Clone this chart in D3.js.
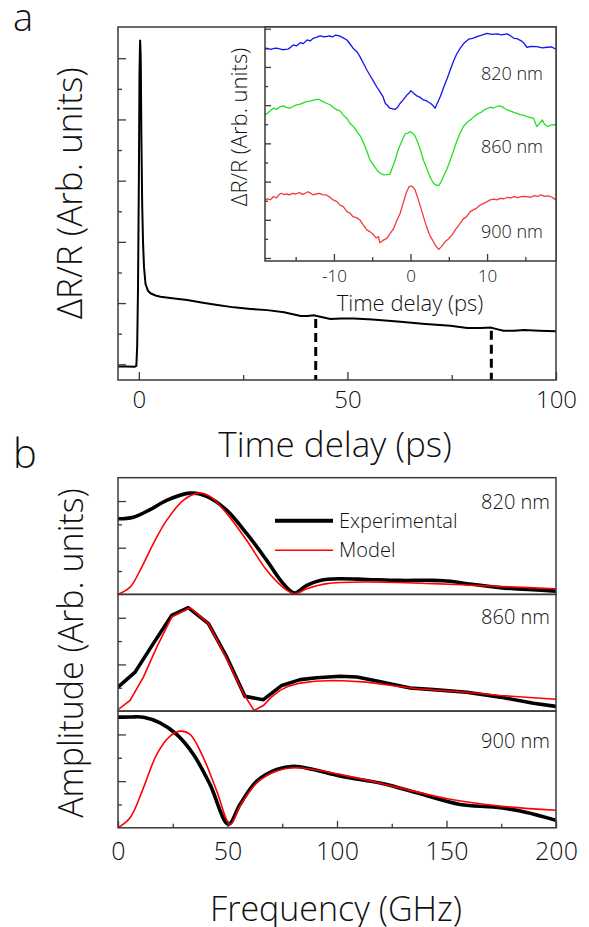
<!DOCTYPE html>
<html><head><meta charset="utf-8">
<script src="https://cdn.jsdelivr.net/npm/d3@7"></script>
<style>body{margin:0;background:#fff;} svg text{font-family:"Open Sans",sans-serif;font-weight:350;fill:#111;}</style>
</head><body><svg id="c" width="589" height="927"></svg>
<script>
// ---------------- DATA ----------------
// Panel a: main transient, [time (ps), dR/R (arb.)]
const mainTrace = [[-5,-0.07],[-3,-0.07],[-1,-0.08],[-0.6,-0.05],[-0.4,0.6],[-0.2,2.5],[0,6.0],[0.15,9.5],[0.3,10.6],[0.45,10.0],[0.6,7.5],[0.8,5.2],[1.0,4.0],[1.23,3.19],[1.6,2.62],[2.2,2.40],[2.8,2.32],[4,2.25],[5.2,2.21],[8,2.16],[11.6,2.10],[15,2.02],[18.8,1.94],[22.8,1.86],[26.8,1.81],[30.8,1.77],[34.8,1.70],[38.8,1.58],[40.5,1.58],[41.9,1.60],[43.2,1.56],[45.9,1.48],[48.5,1.50],[51.5,1.50],[56,1.46],[62.7,1.39],[68.7,1.32],[74.7,1.26],[78.7,1.19],[82,1.19],[84.3,1.20],[85.8,1.15],[87.4,1.10],[90,1.10],[92.3,1.12],[96,1.10],[100,1.08]];
const echoMarks = [[42.4,1.48],[84.5,1.10]];
const mainXMajor = [0,50,100], mainXMinor = [25,75];
const mainYTicks = [0,1,2,3,4,5,6,7,8,9,10];

// Inset: time (ps), dR/R (arb.), offset traces
const inset820 = [[-19,10.93],[-18.6,10.96],[-18.2,10.92],[-17.8,10.97],[-17.5,10.98],[-17.1,10.95],[-16.7,10.90],[-16.3,10.92],[-16,10.93],[-15.6,11.05],[-15.3,11.15],[-14.9,11.10],[-14.4,11.27],[-14.0,11.22],[-13.5,11.41],[-13.1,11.36],[-12.7,11.50],[-12.3,11.55],[-11.8,11.62],[-11.4,11.58],[-11.0,11.59],[-10.6,11.62],[-10.2,11.57],[-9.8,11.66],[-9.4,11.64],[-8.9,11.55],[-8.3,11.41],[-7.9,11.20],[-7.5,10.98],[-7.0,10.80],[-6.6,10.54],[-6.1,10.15],[-5.7,9.84],[-5.2,9.50],[-4.8,9.23],[-4.4,8.95],[-4.0,8.71],[-3.6,8.45],[-3.3,8.10],[-3.0,7.98],[-2.7,7.84],[-2.3,7.80],[-2.0,7.78],[-1.7,7.88],[-1.35,8.10],[-0.9,8.30],[-0.48,8.53],[-0.2,8.62],[0.05,8.76],[0.4,8.62],[0.83,8.48],[1.2,8.42],[1.7,8.27],[2.1,8.22],[2.6,8.10],[2.9,8.00],[3.2,7.84],[3.5,8.10],[3.9,8.45],[4.3,8.90],[4.8,9.41],[5.2,9.85],[5.6,10.28],[6.0,10.65],[6.5,10.98],[7.0,11.25],[7.6,11.45],[8.1,11.50],[8.7,11.59],[9.3,11.66],[10.0,11.76],[10.6,11.70],[11.3,11.73],[11.9,11.68],[12.6,11.73],[13.0,11.65],[13.5,11.50],[13.9,11.48],[14.4,11.38],[14.8,11.25],[15.2,11.03],[15.8,11.08],[16.5,11.06],[17.2,11.00],[17.9,11.03],[18.4,11.05],[19,10.93]];
const inset860 = [[-19,7.49],[-18.6,7.60],[-18.2,7.75],[-17.9,7.84],[-17.5,7.78],[-17.0,7.92],[-16.6,7.96],[-16.2,7.88],[-15.8,7.84],[-15.3,7.93],[-14.9,8.01],[-14.4,8.05],[-14.0,8.12],[-13.6,8.18],[-13.0,8.22],[-12.5,8.28],[-12.0,8.31],[-11.5,8.20],[-11.0,8.10],[-10.5,8.02],[-10.0,7.85],[-9.6,7.75],[-9.2,7.70],[-8.8,7.49],[-8.3,7.30],[-7.9,7.05],[-7.4,6.85],[-7.0,6.61],[-6.5,6.35],[-6.1,6.00],[-5.7,5.60],[-5.3,5.13],[-4.8,4.85],[-4.4,4.61],[-4.0,4.45],[-3.5,4.35],[-3.1,4.36],[-2.7,4.38],[-2.3,4.80],[-2.0,5.13],[-1.7,5.55],[-1.35,5.92],[-1.0,6.25],[-0.7,6.49],[-0.3,6.55],[0,6.61],[0.3,6.52],[0.6,6.39],[1.0,6.00],[1.3,5.65],[1.7,5.10],[2.2,4.61],[2.6,4.20],[3.0,3.91],[3.3,3.82],[3.7,3.79],[4.0,4.00],[4.3,4.26],[4.8,4.70],[5.2,5.13],[5.6,5.60],[6.1,6.18],[6.5,6.55],[6.9,6.88],[7.4,7.10],[7.8,7.22],[8.3,7.40],[8.8,7.55],[9.2,7.62],[9.6,7.75],[10.0,7.82],[10.4,7.89],[10.8,7.85],[11.3,7.93],[11.7,7.96],[12.1,7.88],[12.6,7.75],[13.0,7.70],[13.5,7.62],[13.9,7.57],[14.3,7.50],[14.8,7.46],[15.2,7.40],[15.7,7.35],[16.1,7.31],[16.3,7.05],[16.5,6.88],[16.8,7.02],[17.2,7.23],[17.5,7.00],[17.9,6.88],[18.3,6.95],[18.7,6.98],[19,6.96]];
const inset900 = [[-19,3.04],[-18.7,3.10],[-18.3,3.05],[-17.9,3.21],[-17.5,3.15],[-17.2,3.30],[-16.9,3.39],[-16.5,3.32],[-16.2,3.36],[-15.8,3.30],[-15.4,3.38],[-15.0,3.35],[-14.5,3.42],[-14.1,3.33],[-13.7,3.40],[-13.4,3.47],[-13.0,3.38],[-12.7,3.30],[-12.3,3.35],[-11.9,3.38],[-11.5,3.32],[-11.0,3.30],[-10.6,3.20],[-10.1,3.04],[-9.6,2.95],[-9.2,2.77],[-8.8,2.70],[-8.3,2.43],[-7.9,2.35],[-7.5,2.16],[-7.0,2.10],[-6.6,1.99],[-6.2,1.75],[-5.7,1.47],[-5.3,1.38],[-4.8,1.20],[-4.5,1.05],[-4.2,1.12],[-4.0,0.80],[-3.6,0.92],[-3.1,1.03],[-2.7,1.25],[-2.2,1.55],[-1.8,1.95],[-1.35,2.34],[-0.9,2.95],[-0.5,3.47],[-0.2,3.72],[0,3.77],[0.3,3.72],[0.6,3.56],[0.9,3.20],[1.3,2.69],[1.7,2.15],[2.1,1.64],[2.5,1.20],[3.0,0.85],[3.3,0.62],[3.7,0.45],[4.1,0.62],[4.5,0.85],[4.9,0.98],[5.4,1.20],[5.9,1.50],[6.5,1.82],[6.9,2.05],[7.3,2.15],[7.8,2.43],[8.2,2.52],[8.6,2.60],[9.1,2.77],[9.5,2.85],[10.0,2.95],[10.4,3.04],[10.9,3.08],[11.3,3.04],[11.7,3.12],[12.2,3.10],[12.7,3.18],[13.1,3.14],[13.5,3.21],[14.0,3.16],[14.6,3.22],[15.2,3.21],[15.7,3.18],[16.2,3.26],[16.6,3.22],[17.0,3.30],[17.5,3.22],[18.0,3.25],[18.5,3.18],[19,3.04]];
const insetLabels = ["820 nm","860 nm","900 nm"];
const insetLabelLevels = [9.32, 5.51, 1.03];
const insetXMajor = [-10,0,10], insetXMinor = [-15,-5,5,15];
const insetYTicks = [0,1,2,3,4,5,6,7,8,9,10,11,12];

// Panel b: frequency (GHz), amplitude (arb.)
const exp820 = [[0,3.24],[7,3.31],[14.6,3.63],[22.2,4.03],[32.9,4.34],[40.5,4.20],[49.7,3.60],[58.8,2.60],[67.9,1.46],[75.5,0.46],[80.6,0.06],[86.2,0.39],[92.3,0.60],[101.4,0.67],[113.6,0.64],[128.8,0.60],[144.1,0.60],[151.7,0.56],[159.3,0.46],[174.5,0.29],[200,0.14]];
const mod820 = [[0,0.0],[5.5,0.31],[10.1,1.03],[16.1,2.17],[22.2,3.17],[29.8,4.03],[36.7,4.34],[42.0,4.20],[49.7,3.46],[58.8,2.31],[67.9,1.03],[75.5,0.29],[80.6,0.03],[86.2,0.24],[95.4,0.46],[113.6,0.53],[144.1,0.46],[174.5,0.34],[200,0.24]];
const exp860 = [[0,1.03],[7.8,1.67],[16.1,2.89],[24.5,4.10],[32.1,4.43],[41.3,3.75],[49.7,2.31],[58.0,0.63],[66.4,0.49],[74.8,1.10],[83.2,1.35],[90.8,1.43],[101.4,1.49],[109.1,1.46],[118.2,1.29],[133.4,0.99],[144.1,0.92],[159.3,0.81],[174.5,0.60],[189.7,0.34],[200,0.20]];
const mod860 = [[0,0.06],[5.5,0.46],[11.6,1.46],[17.7,2.74],[24.5,4.03],[32.9,4.43],[41.3,3.75],[49.7,2.24],[57.3,0.75],[62.1,0.03],[66.4,0.24],[70,0.60],[74.0,0.89],[78,1.07],[83.2,1.20],[90,1.28],[98.4,1.31],[105,1.29],[113.6,1.24],[125,1.10],[136.5,0.96],[148,0.88],[159.3,0.81],[174.5,0.67],[188,0.58],[200,0.51]];
const exp900 = [[0,4.74],[6,4.75],[11.6,4.74],[19.2,4.50],[26.8,4.00],[34.4,3.15],[42.0,1.86],[50.4,0.15],[55.7,1.00],[63.4,2.00],[72.5,2.50],[80.1,2.64],[89.2,2.50],[101.4,2.22],[121.2,1.89],[136.5,1.50],[156.3,1.00],[171.5,0.89],[183.7,0.72],[200,0.32]];
const mod900 = [[0,0.0],[5.5,0.43],[11.6,1.71],[17.7,3.15],[23.8,3.93],[28.3,4.14],[32.9,4.00],[39.0,3.00],[45.1,1.57],[51.2,0.15],[55.7,0.93],[63.4,1.93],[72.5,2.43],[81.6,2.57],[101.4,2.29],[128.8,1.71],[151.7,1.22],[174.5,0.93],[200,0.75]];
const panelBLabels = ["820 nm","860 nm","900 nm"];
const freqMajor = [0,50,100,150,200], freqMinor = [25,75,125,175];
const ampMajor = [2,4], ampMinor = [1,3];
const legendItems = ["Experimental","Model"];

// ---------------- DRAWING ----------------
const svg = d3.select("#c");
const FRAME = "#3a3a3a";

function ticks(g, scale, orient, values, len, labels, fs, pad) {
  const ax = (orient === "bottom" ? d3.axisBottom(scale) : d3.axisLeft(scale))
    .tickValues(values).tickSizeInner(-len).tickSizeOuter(0).tickPadding(pad || 0)
    .tickFormat(labels ? d3.format("d") : () => "");
  g.call(ax);
  g.select(".domain").remove();
  g.selectAll(".tick line").attr("stroke", FRAME).attr("stroke-width", 1.3);
  g.selectAll(".tick text").attr("font-family", '"Open Sans",sans-serif').attr("font-weight", 350).attr("font-size", fs || 10).attr("fill", "#111");
  g.selectAll(".tick text").text(d => labels ? (d < 0 ? "-" + Math.abs(d) : String(d)) : "");
}
function clip(id, x, y, w, h) {
  svg.append("clipPath").attr("id", id).append("rect").attr("x", x).attr("y", y).attr("width", w).attr("height", h);
}

// ---- Panel a main ----
const A = {l:118, r:556, t:27, b:380};
const xA = d3.scaleLinear().domain([-5,100]).range([A.l, A.r]);
const yA = d3.scaleLinear().domain([-0.513, 11.02]).range([A.b, A.t]);
clip("clipA", A.l, A.t, A.r - A.l, A.b - A.t);
const lineA = d3.line().x(d => xA(d[0])).y(d => yA(d[1]));
svg.append("path").datum(mainTrace).attr("d", lineA).attr("fill","none").attr("stroke","#000").attr("stroke-width",2).attr("clip-path","url(#clipA)");
svg.selectAll(".echo").data(echoMarks).enter().append("line")
  .attr("x1", d => xA(d[0])).attr("x2", d => xA(d[0]))
  .attr("y1", d => yA(d[1])).attr("y2", A.b)
  .attr("stroke","#000").attr("stroke-width",3).attr("stroke-dasharray","9,5");
ticks(svg.append("g").attr("transform",`translate(0,${A.b})`), xA, "bottom", mainXMajor, 8, true, 24, 11);
ticks(svg.append("g").attr("transform",`translate(0,${A.b})`), xA, "bottom", mainXMinor, 5, false);
ticks(svg.append("g").attr("transform",`translate(${A.l},0)`), yA, "left", mainYTicks.filter(d => d % 2 === 0), 8, false);
ticks(svg.append("g").attr("transform",`translate(${A.l},0)`), yA, "left", mainYTicks.filter(d => d % 2 === 1), 4, false);
svg.append("rect").attr("x",A.l).attr("y",A.t).attr("width",A.r-A.l).attr("height",A.b-A.t).attr("fill","none").attr("stroke",FRAME).attr("stroke-width",1.5);

// ---- Inset ----
const I = {l:265, r:556, t:27, b:261};
const xI = d3.scaleLinear().domain([-19,19]).range([I.l, I.r]);
const yI = d3.scaleLinear().domain([-0.157, 12.09]).range([I.b, I.t]);
svg.append("rect").attr("x",I.l).attr("y",I.t).attr("width",I.r-I.l).attr("height",I.b-I.t).attr("fill","#fff");
clip("clipI", I.l, I.t, I.r - I.l, I.b - I.t);
const lineI = d3.line().x(d => xI(d[0])).y(d => yI(d[1]));
[[inset820,"#1414f0"],[inset860,"#22e022"],[inset900,"#f23a3a"]].forEach(([s,c]) => {
  svg.append("path").datum(s).attr("d", lineI).attr("fill","none").attr("stroke",c).attr("stroke-width",1.3).attr("stroke-linejoin","round").attr("clip-path","url(#clipI)");
});
insetLabels.forEach((t,i) => {
  svg.append("text").attr("x", 543).attr("y", yI(insetLabelLevels[i])).attr("text-anchor","end").attr("font-size",18).text(t);
});
ticks(svg.append("g").attr("transform",`translate(0,${I.b})`), xI, "bottom", insetXMajor, 7, true, 17, 9);
ticks(svg.append("g").attr("transform",`translate(0,${I.b})`), xI, "bottom", insetXMinor, 4, false);
ticks(svg.append("g").attr("transform",`translate(${I.l},0)`), yI, "left", insetYTicks.filter(d => d % 2 === 0), 6, false);
ticks(svg.append("g").attr("transform",`translate(${I.l},0)`), yI, "left", insetYTicks.filter(d => d % 2 === 1), 3, false);
svg.append("rect").attr("x",I.l).attr("y",I.t).attr("width",I.r-I.l).attr("height",I.b-I.t).attr("fill","none").attr("stroke",FRAME).attr("stroke-width",1.5);
svg.append("text").attr("x", 410).attr("y", 311).attr("text-anchor","middle").attr("font-size",22).text("Time delay (ps)");
svg.append("text").attr("transform","translate(247,127) rotate(-90)").attr("text-anchor","middle").attr("font-size",22).text("ΔR/R (Arb. units)");

// Panel a titles
svg.append("text").attr("x", 335).attr("y", 457).attr("text-anchor","middle").attr("font-size",35).text("Time delay (ps)");
svg.append("text").attr("transform","translate(82,193) rotate(-90)").attr("text-anchor","middle").attr("font-size",35).text("ΔR/R (Arb. units)");
svg.append("text").attr("x", 13).attr("y", 31).attr("font-size",38).text("a");

// ---- Panel b ----
const B = {l:118, r:556, t:477.7, h:116.7};
const xB = d3.scaleLinear().domain([0,200]).range([B.l, B.r]);
const subs = [[exp820, mod820], [exp860, mod860], [exp900, mod900]];
const subCurves = [d3.curveCatmullRom, d3.curveLinear, d3.curveCatmullRom];
subs.forEach(([e, m], i) => {
  const top = B.t + i * B.h, bot = top + B.h;
  const yB = d3.scaleLinear().domain([0,5]).range([bot, top]);
  clip("clipB" + i, B.l, top, B.r - B.l, B.h);
  const ln = d3.line().x(d => xB(d[0])).y(d => yB(d[1])).curve(subCurves[i]);
  const lnM = d3.line().x(d => xB(d[0])).y(d => yB(d[1])).curve(i === 1 ? d3.curveLinear : d3.curveCatmullRom);
  svg.append("path").datum(e).attr("d", ln).attr("fill","none").attr("stroke","#000").attr("stroke-width",3.6).attr("stroke-linejoin","round").attr("clip-path",`url(#clipB${i})`);
  svg.append("path").datum(m).attr("d", lnM).attr("fill","none").attr("stroke","#ff0000").attr("stroke-width",1.6).attr("clip-path",`url(#clipB${i})`);
  ticks(svg.append("g").attr("transform",`translate(${B.l},0)`), yB, "left", ampMajor, 8, false);
  ticks(svg.append("g").attr("transform",`translate(${B.l},0)`), yB, "left", ampMinor, 4, false);
  svg.append("text").attr("x", 550).attr("y", top + [31.3, 29.6, 37.3][i]).attr("text-anchor","end").attr("font-size",20).text(panelBLabels[i]);
  svg.append("rect").attr("x",B.l).attr("y",top).attr("width",B.r-B.l).attr("height",B.h).attr("fill","none").attr("stroke",FRAME).attr("stroke-width",1.5);
});
const bBot = B.t + 3 * B.h;
ticks(svg.append("g").attr("transform",`translate(0,${bBot})`), xB, "bottom", freqMajor, 7, true, 25, 14);
ticks(svg.append("g").attr("transform",`translate(0,${bBot})`), xB, "bottom", freqMinor, 4, false);

// Legend
const legStyles = [{c:"#000", w:4}, {c:"#ff0000", w:1.6}];
legendItems.forEach((t, i) => {
  const yy = 520.7 + i * 29.5;
  svg.append("line").attr("x1",275).attr("x2",333).attr("y1",yy).attr("y2",yy).attr("stroke",legStyles[i].c).attr("stroke-width",legStyles[i].w);
  svg.append("text").attr("x",339).attr("y",yy + 7).attr("font-size",20).text(t);
});

svg.append("text").attr("x", 336).attr("y", 921).attr("text-anchor","middle").attr("font-size",34).text("Frequency (GHz)");
svg.append("text").attr("transform","translate(83,653) rotate(-90)").attr("text-anchor","middle").attr("font-size",34).text("Amplitude (Arb. units)");
svg.append("text").attr("x", 13).attr("y", 468).attr("font-size",40).text("b");
</script></body></html>
